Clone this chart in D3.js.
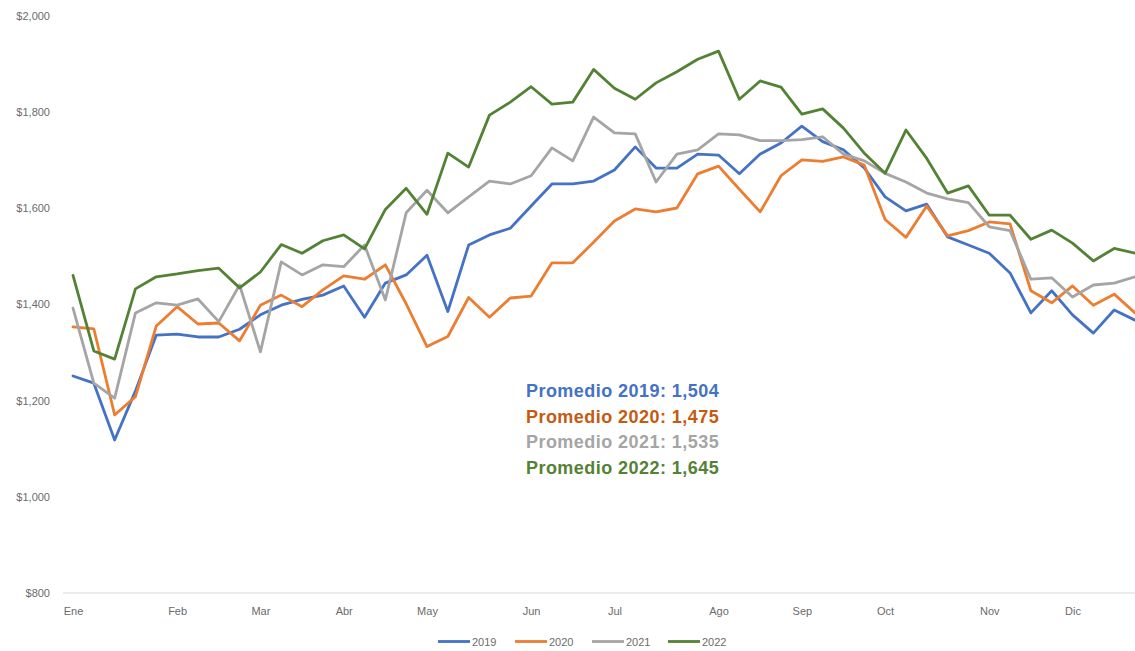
<!DOCTYPE html>
<html>
<head>
<meta charset="utf-8">
<script src="https://cdn.jsdelivr.net/npm/d3@7"></script>
<style>
  html, body { margin: 0; padding: 0; background: #fff; }
  svg { display: block; font-family: "Liberation Sans", Arial, sans-serif; }
</style>
</head>
<body>
<svg id="chart" width="1135" height="651"></svg>
<script>
// ---- Data ----
const weeks = d3.range(52);
const monthLabels = ["Ene","Feb","Mar","Abr","May","Jun","Jul","Ago","Sep","Oct","Nov","Dic"];
const monthWeekIdx = [0, 5, 9, 13, 17, 22, 26, 31, 35, 39, 44, 48];
const yTicks = [800, 1000, 1200, 1400, 1600, 1800, 2000];

const s2019 = [1251,1236,1118,1220,1336,1338,1332,1332,1348,1378,1398,1410,1419,1438,1373,1444,1461,1502,1385,1523,1544,1558,1604,1650,1650,1656,1679,1727,1683,1683,1712,1710,1671,1712,1735,1770,1738,1721,1683,1623,1594,1608,1540,1523,1506,1465,1382,1428,1378,1340,1388,1367];
const s2020 = [1353,1349,1170,1208,1355,1395,1359,1361,1324,1398,1419,1395,1430,1459,1452,1482,1401,1312,1333,1414,1373,1413,1417,1486,1486,1529,1573,1598,1592,1600,1671,1687,1639,1592,1667,1700,1697,1706,1689,1576,1539,1604,1542,1553,1571,1567,1428,1403,1438,1398,1421,1382];
const s2021 = [1392,1236,1205,1382,1403,1398,1411,1364,1440,1301,1488,1461,1482,1478,1523,1409,1590,1637,1590,1623,1656,1650,1667,1725,1698,1789,1756,1754,1654,1712,1721,1754,1752,1740,1740,1742,1748,1712,1698,1672,1654,1631,1619,1611,1561,1553,1452,1455,1415,1440,1444,1457];
const s2022 = [1460,1303,1286,1432,1457,1463,1470,1475,1434,1467,1524,1506,1532,1544,1515,1597,1641,1587,1714,1685,1793,1820,1852,1816,1820,1888,1849,1826,1860,1883,1909,1926,1826,1864,1851,1795,1806,1766,1714,1672,1762,1703,1631,1646,1585,1585,1535,1554,1527,1490,1516,1506];

const seriesNames = ["2019", "2020", "2021", "2022"];
const seriesColors = ["#4472C4", "#ED7D31", "#A5A5A5", "#548235"];
const textColors = ["#4472C4", "#C55A11", "#A5A5A5", "#548235"];
const averages = ["1,504", "1,475", "1,535", "1,645"];
const seriesValues = [s2019, s2020, s2021, s2022];

// ---- Layout ----
const svg = d3.select("#chart");
const x = d3.scalePoint().domain(weeks).range([73, 1135]);
const y = d3.scaleLinear().domain([800, 2000]).range([593, 15.5]);
const labelColor = "#6B6B6B";

// baseline
svg.append("line")
  .attr("x1", 63).attr("x2", 1135)
  .attr("y1", y(800)).attr("y2", y(800))
  .attr("stroke", "#D9D9D9").attr("stroke-width", 1);

// y axis
const yAxis = svg.append("g")
  .attr("transform", "translate(50,0)")
  .call(d3.axisLeft(y).tickValues(yTicks).tickSize(0).tickPadding(0)
    .tickFormat(d => "$" + d3.format(",")(d)));
yAxis.select(".domain").remove();
yAxis.selectAll("text").attr("fill", labelColor).style("font-size", "11px")
  .style("font-family", "'Liberation Sans', Arial, sans-serif");

// x axis
const xAxis = svg.append("g")
  .attr("transform", `translate(0,${y(800)})`)
  .call(d3.axisBottom(x).tickValues(monthWeekIdx).tickSize(0).tickPadding(14)
    .tickFormat(d => monthLabels[monthWeekIdx.indexOf(d)]));
xAxis.select(".domain").remove();
xAxis.selectAll("text").attr("fill", labelColor).style("font-size", "11px")
  .style("font-family", "'Liberation Sans', Arial, sans-serif");

// lines
const line = d3.line().x((d, i) => x(i)).y(d => y(d));
seriesValues.forEach((vals, k) => {
  svg.append("path")
    .datum(vals)
    .attr("fill", "none")
    .attr("stroke", seriesColors[k])
    .attr("stroke-width", 2.8)
    .attr("stroke-linejoin", "round")
    .attr("stroke-linecap", "round")
    .attr("d", line);
});

// annotations
const annY = [390.7, 416.7, 441.7, 467.7];
seriesNames.forEach((n, k) => {
  svg.append("text")
    .attr("x", 526).attr("y", annY[k])
    .attr("dominant-baseline", "central")
    .attr("fill", textColors[k])
    .style("font-size", "18px").style("font-weight", "bold")
    .style("letter-spacing", "0.45px")
    .text(`Promedio ${n}: ${averages[k]}`);
});

// legend
const legendX = [438, 515, 592, 668];
const legend = svg.append("g");
seriesNames.forEach((n, k) => {
  legend.append("line")
    .attr("x1", legendX[k]).attr("x2", legendX[k] + 32)
    .attr("y1", 641.5).attr("y2", 641.5)
    .attr("stroke", seriesColors[k]).attr("stroke-width", 2.8);
  legend.append("text")
    .attr("x", legendX[k] + 34).attr("y", 641.5)
    .attr("dominant-baseline", "central")
    .attr("fill", labelColor).style("font-size", "11px")
    .text(n);
});
</script>
</body>
</html>
